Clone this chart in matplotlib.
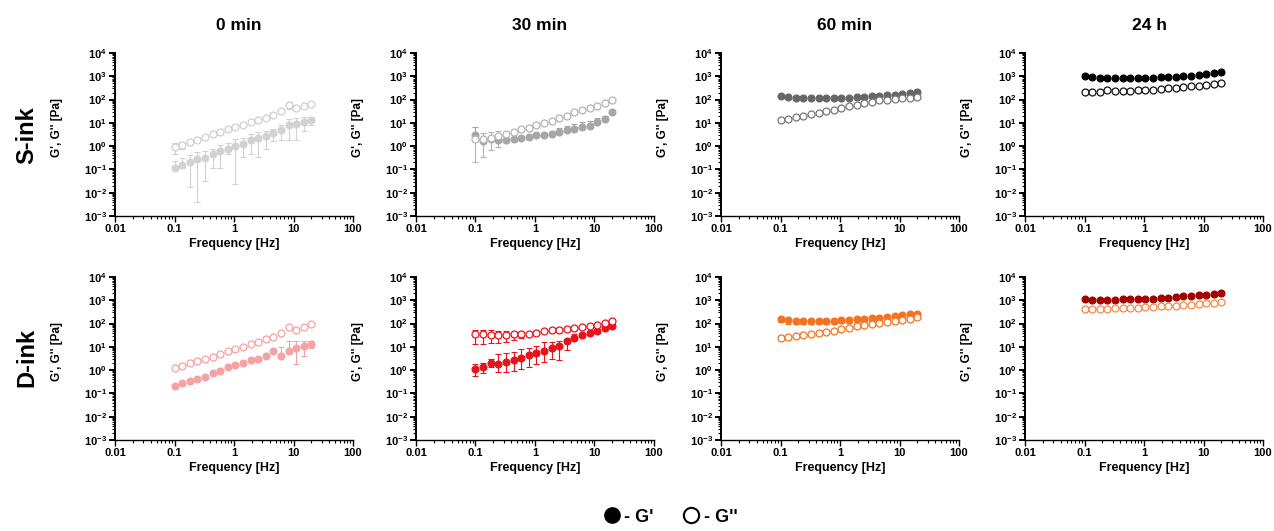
import numpy as np
import matplotlib
matplotlib.use('Agg')
import matplotlib.pyplot as plt
from matplotlib.ticker import LogLocator, NullFormatter, FuncFormatter
from matplotlib.lines import Line2D

plt.rcParams['font.family'] = 'Liberation Sans'
plt.rcParams['font.weight'] = 'bold'
plt.rcParams['mathtext.fontset'] = 'custom'
plt.rcParams['mathtext.bf'] = 'Liberation Sans:bold'
plt.rcParams['mathtext.rm'] = 'Liberation Sans:bold'

# Frequency sweep points [Hz]
freq = [0.1, 0.134, 0.18, 0.242, 0.325, 0.436, 0.585, 0.785, 1.054, 1.414,
        1.9, 2.55, 3.42, 4.59, 6.16, 8.27, 11.1, 14.9, 20.0]

col_titles = ['0 min', '30 min', '60 min', '24 h']
row_titles = ['S-ink', 'D-ink']

# S-ink, 0 min
s0_gp = [0.12, 0.15, 0.21, 0.27, 0.32, 0.44, 0.61, 0.78, 1.0, 1.25, 1.8, 2.2, 2.7, 3.7, 5.1, 8.5, 9.3, 10.7, 13]
s0_gp_lo = [0.09, 0.12, 0.018, 0.004, 0.032, 0.11, 0.12, 0.45, 0.023, 0.35, 0.44, 0.35, 0.78, 1.6, 1.9, 1.9, 1.9, 4.4, 8.5]
s0_gp_hi = [0.24, 0.32, 0.40, 0.54, 0.61, 0.75, 1.1, 1.3, 2.0, 2.2, 3.2, 4.0, 4.6, 5.7, 8.3, 15, 16.7, 17, 17.5]
s0_gpp = [0.93, 1.15, 1.5, 1.9, 2.5, 3.2, 4.0, 5.5, 6.8, 8.2, 10.7, 13.8, 16.3, 22.5, 31, 60, 44, 55, 66]
s0_gpp_lo = [0.47, 0.75, 1.1, 1.5, 2.1, 2.8, 3.5, 4.8, 6.0, 7.3, 9.5, 12, 14.5, 20, 27, 40, 40, 50, 60]
s0_gpp_hi = [1.4, 1.55, 1.9, 2.3, 2.9, 3.6, 4.5, 6.2, 7.6, 9.1, 12, 15.5, 18, 25, 35, 80, 48, 60, 72]

# S-ink, 30 min
s30_gp = [2.9, 1.65, 1.94, 1.75, 1.8, 2.07, 2.2, 2.5, 3.0, 3.1, 3.4, 3.9, 4.7, 5.6, 6.4, 7.7, 11, 14.5, 28]
s30_gp_lo = [2.9, 1.65, 1.94, 1.75, 1.8, 2.07, 2.2, 2.5, 3.0, 3.1, 3.4, 3.9, 4.7, 5.6, 6.4, 7.7, 11, 14.5, 28]
s30_gp_hi = [6.5, 1.65, 1.94, 1.75, 1.8, 2.07, 2.2, 2.5, 3.0, 3.1, 3.4, 6.0, 7.5, 9.0, 10.5, 12, 16, 20, 30]
s30_gpp = [2.07, 2.07, 2.28, 2.69, 3.38, 4.0, 5.2, 6.1, 7.9, 10, 12.5, 15.8, 20.5, 28, 34, 42, 55, 71, 98]
s30_gpp_lo = [0.2, 0.35, 0.68, 0.93, 2.6, 3.3, 4.4, 5.2, 6.8, 8.6, 10.8, 13.6, 17.6, 24, 29, 36, 47, 61, 84]
s30_gpp_hi = [3.8, 3.7, 3.9, 4.4, 4.2, 4.8, 6.0, 7.0, 9.0, 11.4, 14.2, 18, 23.4, 32, 39, 48, 62, 80, 110]

# S-ink, 60 min
s60_gp = [139, 130, 122, 118, 114, 114, 114, 114, 118, 122, 126, 130, 139, 144, 154, 165, 182, 194, 208]
s60_gpp = [13, 14.8, 17, 19.4, 22.9, 26.8, 31.6, 37, 44, 52, 61, 72, 82, 93, 100, 107, 114, 122, 130]

# S-ink, 24 h
s24_gp = [1000, 908, 850, 822, 822, 822, 822, 822, 850, 879, 908, 940, 970, 1000, 1067, 1140, 1220, 1330, 1470]
s24_gpp = [218, 204, 204, 248, 232, 232, 240, 248, 256, 265, 283, 302, 312, 333, 366, 390, 418, 445, 490]

# D-ink, 0 min
d0_gp = [0.21, 0.27, 0.33, 0.43, 0.52, 0.75, 0.95, 1.3, 1.6, 2.1, 2.6, 3.1, 4.2, 6.4, 3.9, 6.4, 8.7, 11, 13.4]
d0_gp_lo = [0.21, 0.27, 0.33, 0.43, 0.52, 0.75, 0.95, 1.3, 1.6, 2.1, 2.6, 3.1, 4.2, 6.4, 3.9, 6.4, 1.8, 4.2, 9.0]
d0_gp_hi = [0.21, 0.27, 0.33, 0.43, 0.52, 0.75, 0.95, 1.3, 1.6, 2.1, 2.6, 3.1, 4.2, 6.4, 9.6, 18.6, 17, 17.8, 17.8]
d0_gpp = [1.24, 1.5, 1.96, 2.4, 2.9, 3.8, 5.0, 6.4, 8.1, 10.2, 13.4, 16.9, 21, 27.7, 40, 70, 55, 70, 97]

# D-ink, 30 min
d30_gp = [1.12, 1.3, 2.0, 1.84, 2.3, 2.7, 3.4, 4.5, 5.3, 6.9, 9.0, 11.3, 17, 25, 31.6, 37.5, 47, 65, 75]
d30_gp_lo = [0.57, 0.72, 1.3, 0.8, 0.8, 0.95, 1.1, 1.4, 1.8, 2.2, 3.0, 2.6, 7.4, 20, 28, 33, 42, 58, 68]
d30_gp_hi = [1.84, 2.0, 3.0, 5.0, 5.3, 5.9, 8.1, 9.0, 11.3, 15.8, 15.8, 18.6, 21.9, 36, 37, 43, 54, 75, 86]
d30_gpp = [34, 34, 33, 32, 32, 34, 34, 36, 40, 47, 54, 54, 59, 63, 70, 80, 91, 111, 135]
d30_gpp_lo = [13, 13, 14, 15, 16, 20, 25, 30, 34, 40, 46, 46, 50, 54, 60, 68, 78, 95, 115]
d30_gpp_hi = [55, 55, 52, 50, 48, 45, 42, 42, 46, 54, 62, 62, 68, 72, 80, 92, 105, 128, 155]

# D-ink, 60 min
d60_gp = [158, 139, 130, 130, 130, 130, 134, 134, 139, 144, 153, 158, 169, 181, 193, 206, 228, 251, 270]
d60_gp_lo = [115, 100, 95, 95, 95, 95, 98, 98, 102, 106, 112, 116, 124, 133, 142, 151, 168, 185, 200]
d60_gp_hi = [190, 167, 156, 156, 156, 156, 161, 161, 167, 173, 184, 190, 203, 217, 232, 247, 274, 301, 324]
d60_gpp = [25, 27, 28.7, 31.6, 35, 40, 44, 50, 57, 65, 77, 85, 94, 106, 118, 130, 148, 164, 193]

# D-ink, 24 h
d24_gp = [1104, 1068, 1068, 1068, 1068, 1104, 1104, 1141, 1141, 1180, 1219, 1300, 1345, 1480, 1534, 1638, 1750, 1870, 2000]
d24_gpp = [440, 440, 440, 440, 454, 454, 469, 485, 500, 518, 553, 572, 591, 631, 652, 697, 745, 796, 851]

# (row, col, G', G' low, G' high, G'', G'' low, G'' high, colour G', colour G'')
panels = [
    (0, 0, s0_gp, s0_gp_lo, s0_gp_hi, s0_gpp, s0_gpp_lo, s0_gpp_hi, '#d2d2d2', '#cfcfcf'),
    (0, 1, s30_gp, s30_gp_lo, s30_gp_hi, s30_gpp, s30_gpp_lo, s30_gpp_hi, '#a6a6a6', '#b4b4b4'),
    (0, 2, s60_gp, None, None, s60_gpp, None, None, '#666666', '#777777'),
    (0, 3, s24_gp, None, None, s24_gpp, None, None, '#000000', '#111111'),
    (1, 0, d0_gp, d0_gp_lo, d0_gp_hi, d0_gpp, None, None, '#f4a2a2', '#f4a2a2'),
    (1, 1, d30_gp, d30_gp_lo, d30_gp_hi, d30_gpp, d30_gpp_lo, d30_gpp_hi, '#e8121c', '#e8121c'),
    (1, 2, d60_gp, d60_gp_lo, d60_gp_hi, d60_gpp, None, None, '#f57320', '#f57320'),
    (1, 3, d24_gp, None, None, d24_gpp, None, None, '#a50000', '#f08a4b'),
]

W, H = 1274, 531
fig = plt.figure(figsize=(W / 100, H / 100), dpi=100)

col_left = [115, 416, 721, 1025]
row_top = [53, 277]
ax_w, ax_h = 238, 163


def yfmt(v, pos):
    return r'$\mathbf{10^{%d}}$' % int(round(np.log10(v)))


def xfmt(v, pos):
    return '%g' % v


def draw_series(ax, y, lo, hi, color, filled):
    y = np.array(y)
    if lo is not None:
        err = [y - np.array(lo), np.array(hi) - y]
        ax.errorbar(freq, y, yerr=err, fmt='none', ecolor=color, elinewidth=0.8,
                    capsize=2.5, capthick=0.8, zorder=2)
    if filled:
        ax.plot(freq, y, 'o', ms=5.0, mfc=color, mec=color, mew=0.8, ls='none', zorder=3)
    else:
        ax.plot(freq, y, 'o', ms=5.0, mfc='white', mec=color, mew=0.9, ls='none', zorder=3)


for row, col, gp, gp_lo, gp_hi, gpp, gpp_lo, gpp_hi, c1, c2 in panels:
    left = col_left[col] / W
    bottom = 1 - (row_top[row] + ax_h) / H
    ax = fig.add_axes([left, bottom, ax_w / W, ax_h / H])

    draw_series(ax, gp, gp_lo, gp_hi, c1, True)
    draw_series(ax, gpp, gpp_lo, gpp_hi, c2, False)

    ax.set_xscale('log')
    ax.set_yscale('log')
    ax.set_xlim(0.01, 100)
    ax.set_ylim(1e-3, 1e4)

    ax.xaxis.set_major_locator(LogLocator(base=10, numticks=10))
    ax.xaxis.set_minor_locator(LogLocator(base=10, subs=np.arange(2, 10), numticks=20))
    ax.yaxis.set_major_locator(LogLocator(base=10, numticks=12))
    ax.yaxis.set_minor_locator(LogLocator(base=10, subs=np.arange(2, 10), numticks=20))
    ax.xaxis.set_major_formatter(FuncFormatter(xfmt))
    ax.yaxis.set_major_formatter(FuncFormatter(yfmt))
    ax.xaxis.set_minor_formatter(NullFormatter())
    ax.yaxis.set_minor_formatter(NullFormatter())

    for side in ['top', 'right']:
        ax.spines[side].set_visible(False)
    ax.spines['left'].set_linewidth(1.4)
    ax.spines['bottom'].set_linewidth(1.0)
    ax.tick_params(which='major', direction='out', length=4, width=1.0, labelsize=8, pad=2)
    ax.tick_params(which='minor', direction='out', length=2.5, width=0.8)
    ax.tick_params(axis='y', which='major', width=1.4)

    ax.set_xlabel('Frequency [Hz]', fontsize=9, fontweight='bold')
    ax.xaxis.set_label_coords(0.5, -22 / ax_h)
    ax.set_ylabel("G', G'' [Pa]", fontsize=8.5, fontweight='bold')
    ax.yaxis.set_label_coords(-52 / ax_w, 0.54)

    if row == 0:
        cx = (col_left[col] + ax_w / 2 + 5) / W
        fig.text(cx, 1 - 26 / H, col_titles[col], ha='center', va='center',
                 fontsize=12.5, fontweight='bold')

fig.text(27 / W, 1 - 135 / H, row_titles[0], rotation=90, ha='center', va='center',
         fontsize=17, fontweight='bold')
fig.text(27 / W, 1 - 357 / H, row_titles[1], rotation=90, ha='center', va='center',
         fontsize=17, fontweight='bold')

handles = [Line2D([], [], marker='o', ls='none', ms=11, mfc='black', mec='black'),
           Line2D([], [], marker='o', ls='none', ms=11, mfc='white', mec='black', mew=1.5)]
fig.legend(handles, ["- G'", "- G''"], loc='center', bbox_to_anchor=(0.526, 0.026),
           ncol=2, frameon=False, handlelength=1.0, handletextpad=0.2, columnspacing=1.6,
           prop={'weight': 'bold', 'size': 13})

fig.savefig('out.png', dpi=100)
